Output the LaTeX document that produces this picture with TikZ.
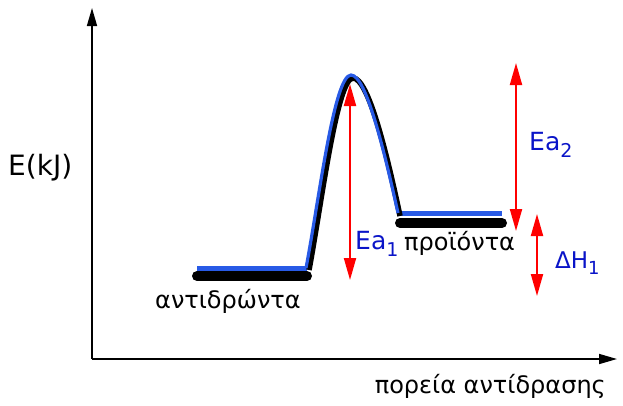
\documentclass[tikz,border=0pt]{standalone}
\usepackage{fontspec}
\setmainfont{DejaVu Sans}
\usetikzlibrary{arrows.meta}
\definecolor{lblue}{RGB}{40,90,230}
\definecolor{tblue}{RGB}{10,20,200}
\newcommand{\mysub}[1]{\raisebox{-0.28em}{\fontsize{19}{19}\selectfont #1}}
\begin{document}
\begin{tikzpicture}[x=1pt,y=-1pt,
  axis/.style={line width=1.6pt,-{Triangle[width=10pt,length=18pt]}},
  redarr/.style={red,line width=2pt,{Triangle[width=12pt,length=22pt]}-{Triangle[width=12pt,length=22pt]}},
  lbl/.style={inner sep=0pt,font=\fontsize{24}{24}\selectfont},
  bluelbl/.style={inner sep=0pt,text=tblue,font=\fontsize{25}{25}\selectfont},
  shadow/.style={line width=10pt,line cap=round,black},
  level/.style={line width=5pt,lblue}]
\useasboundingbox (0,0) rectangle (623,405);
\coordinate (O) at (92,359);
\coordinate (Ytop) at (92,8);
\coordinate (Xend) at (617,359);
\draw[axis] (O) -- (Ytop);
\draw[axis] (O) -- (Xend);
\node[lbl,anchor=base west,font=\fontsize{28}{28}\selectfont] (E) at (8,175) {E(kJ)};
\node[lbl,anchor=base east] (xl) at (606,393) {πορεία αντίδρασης};
% reactant level
\coordinate (r1) at (197,276);
\coordinate (r2) at (307,276);
\draw[shadow] (r1) -- (r2);
\draw[level] (197,268.5) -- (307,268.5);
% product level
\coordinate (p1) at (400,223);
\coordinate (p2) at (502,223);
\draw[shadow] (p1) -- (p2);
\draw[level] (398,213.5) -- (502,213.5);
% curve
\draw[line width=5.5pt,black] (309,270) .. controls (322,200) and (337,78) .. (353,78) .. controls (368,78) and (386,150) .. (400,216);
\draw[line width=3.2pt,lblue] (306,268) .. controls (319,200) and (334,75) .. (351,75) .. controls (366,75) and (384,150) .. (398,213);
% arrows
\coordinate (a1t) at (350,84);
\coordinate (a1b) at (350,280);
\draw[redarr] (a1t) -- (a1b);
\coordinate (a2t) at (516,63);
\coordinate (a2b) at (516,231);
\draw[redarr] (a2t) -- (a2b);
\coordinate (dht) at (537,214);
\coordinate (dhb) at (537,296);
\draw[redarr] (dht) -- (dhb);
% labels
\node[bluelbl,anchor=base west] (ea1) at (355,249) {Ea\mysub{1}};
\node[lbl,anchor=base west] (pr) at (404,250) {προϊόντα};
\node[lbl,anchor=base west] (re) at (155,308) {αντιδρώντα};
\node[bluelbl,anchor=base west] (ea2) at (529,150) {Ea\mysub{2}};
\node[bluelbl,anchor=base west,font=\fontsize{23}{23}\selectfont] (dh) at (555,268) {ΔH\raisebox{-0.28em}{\fontsize{18}{18}\selectfont 1}};
\end{tikzpicture}
\end{document}
